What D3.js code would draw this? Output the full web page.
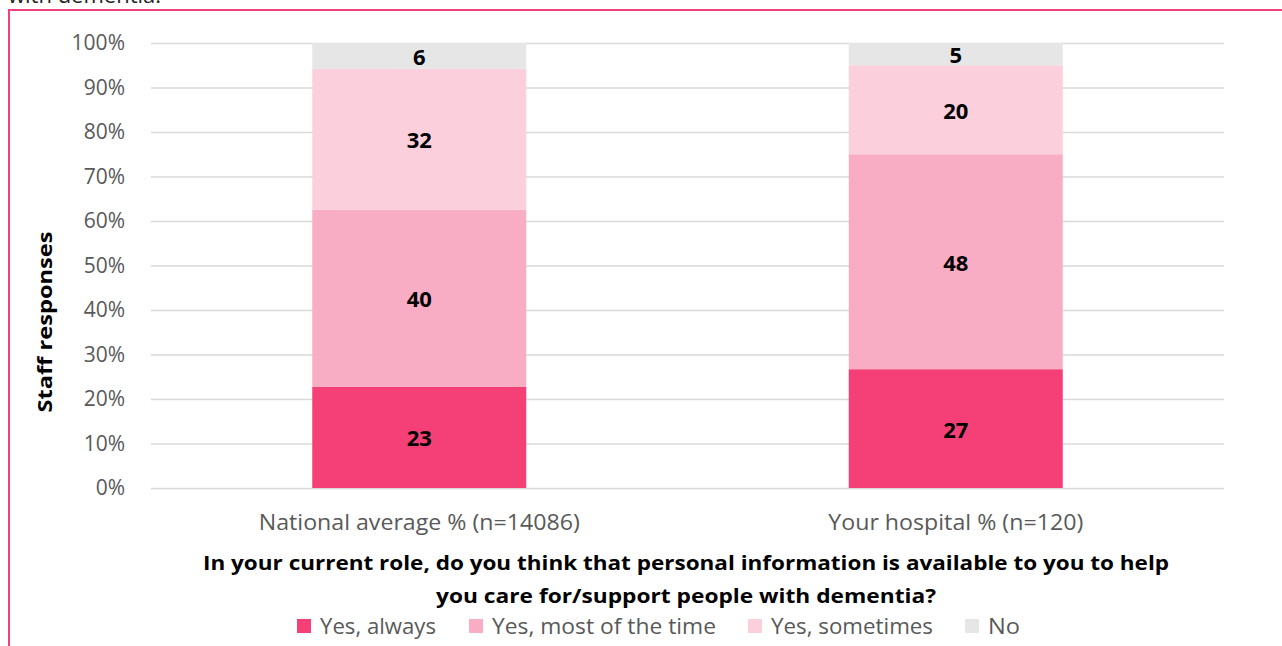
<!DOCTYPE html>
<html>
<head>
<meta charset="utf-8">
<script src="https://d3js.org/d3.v7.min.js"></script>
<style>
  body { margin: 0; background: #fff; overflow: hidden; }
  svg { display: block; font-family: "Open Sans", sans-serif; }
</style>
</head>
<body>
<script>
// chart data
var groups = ["National average % (n=14086)", "Your hospital % (n=120)"];
var seriesNames = ["Yes, always", "Yes, most of the time", "Yes, sometimes", "No"];
var seriesColors = ["#f43f77", "#f9adc4", "#fccfdd", "#e6e6e6"];
var national = [22.7, 39.8, 31.7, 5.8];
var hospital = [26.7, 48.3, 20.0, 5.0];
var shownNational = [23, 40, 32, 6];
var shownHospital = [27, 48, 20, 5];
var yTicks = [0, 10, 20, 30, 40, 50, 60, 70, 80, 90, 100];
var questionLines = ["In your current role, do you think that personal information is available to you to help",
                     "you care for/support people with dementia?"];

var W = 1282, H = 646;
var svg = d3.select("body").append("svg").attr("width", W).attr("height", H);

// cut-off caption from above + frame
svg.append("text").attr("x", 8).attr("y", 3)
  .attr("font-size", 22).attr("fill", "#222").text("with dementia.");
svg.append("path")
  .attr("d", "M9,660 L9,10 L1300,10")
  .attr("fill", "none").attr("stroke", "#f0427a").attr("stroke-width", 2);

var plotL = 151, plotR = 1224, plotT = 43, plotB = 488;

var x = d3.scaleBand().domain(groups).range([plotL, plotR]).paddingInner(0).paddingOuter(0);
var y = d3.scaleLinear().domain([0, 100]).range([plotB, plotT]);
var barW = 214;

// gridlines + tick labels
var yAxis = d3.axisLeft(y).tickValues(yTicks).tickFormat(function(d){ return d + "%"; })
  .tickSize(-(plotR - plotL)).tickPadding(26);
var ga = svg.append("g").attr("transform", "translate(" + plotL + ",0)").call(yAxis);
ga.select(".domain").remove();
ga.selectAll(".tick line").attr("stroke", "#d9d9d9").attr("stroke-width", 1.5);
ga.selectAll(".tick text").attr("font-size", 21).attr("fill", "#595959")
  .attr("font-family", "Open Sans, sans-serif");

// stacked bars
var rows = [
  { g: groups[0], vals: national, shown: shownNational },
  { g: groups[1], vals: hospital, shown: shownHospital }
];
rows.forEach(function(r) {
  var acc = 0;
  var segs = r.vals.map(function(v, i) {
    var s = { y0: acc, y1: acc + v, i: i, label: r.shown[i] };
    acc += v;
    return s;
  });
  var cx = x(r.g) + x.bandwidth() / 2;
  var g = svg.append("g");
  g.selectAll("rect").data(segs).enter().append("rect")
    .attr("x", cx - barW / 2).attr("width", barW)
    .attr("y", function(d){ return y(d.y1); })
    .attr("height", function(d){ return y(d.y0) - y(d.y1); })
    .attr("fill", function(d){ return seriesColors[d.i]; });
  g.selectAll("text").data(segs).enter().append("text")
    .attr("x", cx)
    .attr("y", function(d){ return (y(d.y0) + y(d.y1)) / 2 + 1; })
    .attr("dy", "0.36em")
    .attr("text-anchor", "middle")
    .attr("font-size", 22).attr("font-weight", "bold").attr("fill", "#000")
    .text(function(d){ return d.label; });
});

// category labels
var catWidths = [321, 255];
svg.selectAll(".cat").data(groups).enter().append("text")
  .attr("class", "cat")
  .attr("x", function(d){ return x(d) + x.bandwidth() / 2; })
  .attr("y", 530)
  .attr("text-anchor", "middle")
  .attr("font-size", 21).attr("fill", "#595959")
  .attr("textLength", function(d, i){ return catWidths[i]; })
  .attr("lengthAdjust", "spacingAndGlyphs")
  .text(function(d){ return d; });

// y title
svg.append("text")
  .attr("transform", "translate(52,322) rotate(-90)")
  .attr("text-anchor", "middle")
  .attr("font-size", 19).attr("font-weight", "bold").attr("fill", "#000")
  .attr("textLength", 181).attr("lengthAdjust", "spacingAndGlyphs")
  .text("Staff responses");

// question (x axis title)
var qWidths = [966, 500];
var qY = [570, 603];
svg.selectAll(".q").data(questionLines).enter().append("text")
  .attr("class", "q")
  .attr("x", 686)
  .attr("y", function(d, i){ return qY[i]; })
  .attr("text-anchor", "middle")
  .attr("font-size", 20).attr("font-weight", "bold").attr("fill", "#000")
  .attr("textLength", function(d, i){ return qWidths[i]; })
  .attr("lengthAdjust", "spacingAndGlyphs")
  .text(function(d){ return d; });

// legend
var legX = [297, 469, 748, 965];
var legW = [116, 224, 162, 32];
var leg = svg.selectAll(".leg").data(seriesNames).enter().append("g")
  .attr("class", "leg")
  .attr("transform", function(d, i){ return "translate(" + legX[i] + ",619)"; });
leg.append("rect").attr("width", 14).attr("height", 14)
  .attr("fill", function(d, i){ return seriesColors[i]; });
leg.append("text").attr("x", 23).attr("y", 15)
  .attr("font-size", 21).attr("fill", "#595959")
  .attr("textLength", function(d, i){ return legW[i]; })
  .attr("lengthAdjust", "spacingAndGlyphs")
  .text(function(d){ return d; });
</script>
</body>
</html>
